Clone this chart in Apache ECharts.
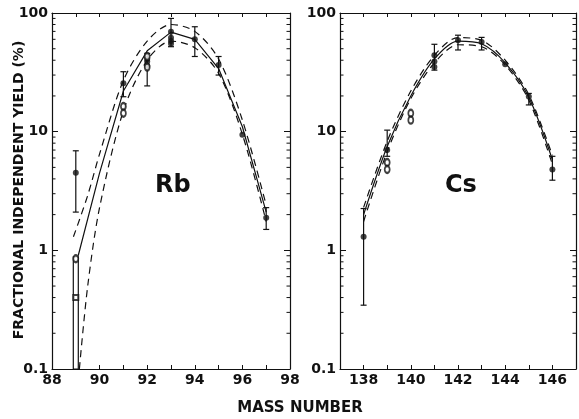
<!DOCTYPE html>
<html><head><meta charset="utf-8">
<script src="https://cdn.jsdelivr.net/npm/echarts@6/dist/echarts.min.js"></script>
<style>html,body{margin:0;padding:0;background:#fff}#c{width:579px;height:419px}</style>
</head><body><div id="c"></div>
<script>
// ---- Rb panel data ----
const rbSolid = [[89.1,0.9],[90,4.5],[91,22],[92,48],[93,69],[94,60],[95,34],[96,11],[97,2.1]];
const rbUpper = [[88.9,1.3],[89.5,2.9],[90,6.5],[91,27],[92,58],[93,80],[94,70],[95,41],[96,12.5],[97,2.4]];
const rbLower = [[89.15,0.1],[89.5,0.5],[90,2.3],[91,15],[92,40],[93,58],[94,51],[95,31],[96,9.5],[97,1.75]];
const rbPoints = [[89,4.5,2.1,6.9],[91,25.6,19.7,32],[92,39,24.3,45.7],[93,69.6,52,90],[94,60,43,76.6],[95,36.4,30,43],[97,1.88,1.5,2.29]];
const rbExtra = [[92,41],[92,36],[93,62],[93,58],[93,55],[96,9.4]];
const rbOpen = [[89,0.85],[91,16.3],[91,14.3],[92,43],[92,35]];
const rbOpenSq = [[89,0.40]];
const rbBox = [[89,0.1,0.88]];
// ---- Cs panel data ----
const csSolid = [[138,2.0],[139,7.5],[140,20],[141,41],[142,58],[143,55],[144,38],[145,19.5],[146,5.8]];
const csUpper = [[138,2.3],[139,8.3],[140,22],[141,44],[142,62],[143,59],[144,40],[145,20.5],[146,6.3]];
const csLower = [[138,1.75],[139,6.8],[140,19],[141,38],[142,54],[143,52],[144,36.5],[145,18.5],[146,5.3]];
const csPoints = [[138,1.3,0.345,2.25],[139,7.0,6.2,10.3],[141,39,33,54.5],[142,59,48.8,65],[143,57,48.8,62.3],[145,19.8,16.8,21],[146,4.8,3.9,6.2]];
const csExtra = [[141,35],[141,44],[144,37]];
const csOpen = [[139,5.5],[139,4.8],[140,14.3],[140,12.5]];
// ---- axes ----
const rbRange = [88, 98];
const csRange = [137, 147];
const rbXLabels = [88, 90, 92, 94, 96, 98];
const csXLabels = [138, 140, 142, 144, 146];
const yRange = [0.1, 100];
const yTickLabels = {0.1:'0.1', 1:'1', 10:'10', 100:'100'};
const decades = [0.1, 1, 10];

const FONT = 'DejaVu Sans';
const chart = echarts.init(document.getElementById('c'), null, {renderer:'canvas'});

function xAx(gi, range, pos, labels, labelList) {
  return {
    type:'value', gridIndex:gi, min:range[0], max:range[1], interval:1, position:pos,
    axisLine:{show:true, onZero:false, lineStyle:{color:'#111', width:1.2}},
    axisTick:{show:true, inside:true, length:4, lineStyle:{color:'#111', width:1}},
    splitLine:{show:false},
    axisLabel:{show:labels, showMinLabel:true, showMaxLabel:true, color:'#111', fontFamily:FONT, fontWeight:'bold', fontSize:14, margin:4,
      formatter:(v)=> (labelList && labelList.indexOf(Math.round(v))>=0 && Math.abs(v-Math.round(v))<1e-6) ? String(Math.round(v)) : ''}
  };
}
function yAx(gi, pos, labels) {
  return {
    type:'log', logBase:10, gridIndex:gi, min:yRange[0], max:yRange[1], position:pos,
    axisLine:{show:true, onZero:false, lineStyle:{color:'#111', width:1.2}},
    axisTick:{show:true, inside:true, length:6, lineStyle:{color:'#111', width:1}},
    splitLine:{show:false}, minorTick:{show:false},
    axisLabel:{show:labels, color:'#111', fontFamily:FONT, fontWeight:'bold', fontSize:14, margin:4,
      formatter:(v)=>{ for (const k in yTickLabels) { if (Math.abs(Math.log10(v)-Math.log10(+k))<1e-6) return yTickLabels[k]; } return ''; }}
  };
}

function lineSeries(gi, data, dashed, smooth) {
  return {type:'line', xAxisIndex:gi*2, yAxisIndex:gi*2, data:data, showSymbol:false, smooth:smooth,
    lineStyle:{color:'#111', width:1.2, type: dashed ? [7,5] : 'solid'}, z:3, silent:true};
}
function errSeries(gi, data) {
  return {type:'custom', xAxisIndex:gi*2, yAxisIndex:gi*2, data:data, clip:false, z:4,
    encode:{x:0, y:[1,2,3]},
    renderItem:(params, api)=>{
      const x=api.value(0), lo=api.value(2), hi=api.value(3);
      const a=api.coord([x,lo]), b=api.coord([x,hi]);
      const st={stroke:'#111', lineWidth:1.2};
      return {type:'group', children:[
        {type:'line', shape:{x1:a[0],y1:a[1],x2:b[0],y2:b[1]}, style:st},
        {type:'line', shape:{x1:a[0]-3,y1:a[1],x2:a[0]+3,y2:a[1]}, style:st},
        {type:'line', shape:{x1:b[0]-3,y1:b[1],x2:b[0]+3,y2:b[1]}, style:st}
      ]};
    }};
}
function dotSeries(gi, data) {
  return {type:'scatter', xAxisIndex:gi*2, yAxisIndex:gi*2, data:data, symbol:'circle', symbolSize:6,
    itemStyle:{color:'#111'}, z:5, silent:true};
}
function openSeries(gi, data, sym) {
  return {type:'scatter', xAxisIndex:gi*2, yAxisIndex:gi*2, data:data, symbol:sym, symbolSize:sym==='emptyRect'?[5,5]:[5,7],
    itemStyle:{color:'#111', borderColor:'#111', borderWidth:1.2}, z:6, silent:true};
}
function minorTickSeries(gi, range) {
  const d=[];
  decades.forEach(dec=>{ for (let k=2;k<=9;k++) d.push([range[0], dec*k]); });
  return {type:'custom', xAxisIndex:gi*2, yAxisIndex:gi*2, data:d, clip:false, z:2, silent:true,
    encode:{x:0,y:1},
    renderItem:(params, api)=>{
      const v=api.value(1);
      const L=api.coord([range[0], v]), R=api.coord([range[1], v]);
      const st={stroke:'#111', lineWidth:1};
      return {type:'group', children:[
        {type:'line', shape:{x1:L[0],y1:L[1],x2:L[0]+3.5,y2:L[1]}, style:st},
        {type:'line', shape:{x1:R[0],y1:R[1],x2:R[0]-3.5,y2:R[1]}, style:st}
      ]};
    }};
}
function boxSeries(gi, data) {
  return {type:'custom', xAxisIndex:gi*2, yAxisIndex:gi*2, data:data, clip:false, z:4, silent:true,
    encode:{x:0, y:[1,2]},
    renderItem:(params, api)=>{
      const x=api.value(0), lo=api.value(1), hi=api.value(2);
      const a=api.coord([x,lo]), b=api.coord([x,hi]);
      return {type:'rect', shape:{x:a[0]-2.5, y:b[1], width:5, height:a[1]-b[1]},
        style:{fill:'#fff', stroke:'#111', lineWidth:1.2}};
    }};
}

const option = {
  backgroundColor:'#fff',
  animation:false,
  grid:[
    {left:52, top:13, width:238, height:356},
    {left:340, top:13, width:238, height:356}
  ],
  xAxis:[
    xAx(0, rbRange, 'bottom', true, rbXLabels), xAx(0, rbRange, 'top', false, null),
    xAx(1, csRange, 'bottom', true, csXLabels), xAx(1, csRange, 'top', false, null)
  ],
  yAxis:[
    yAx(0, 'left', true), yAx(0, 'right', false),
    yAx(1, 'left', true), yAx(1, 'right', false)
  ],
  series:[
    minorTickSeries(0, rbRange), minorTickSeries(1, csRange),
    boxSeries(0, rbBox),
    lineSeries(0, rbSolid, false, false),
    lineSeries(0, rbUpper, true, 0.3),
    lineSeries(0, rbLower, true, 0.3),
    errSeries(0, rbPoints),
    dotSeries(0, rbPoints.map(p=>[p[0],p[1]])),
    dotSeries(0, rbExtra),
    openSeries(0, rbOpen, 'emptyCircle'),
    openSeries(0, rbOpenSq, 'emptyRect'),
    lineSeries(1, csSolid, false, 0.3),
    lineSeries(1, csUpper, true, 0.3),
    lineSeries(1, csLower, true, 0.3),
    errSeries(1, csPoints),
    dotSeries(1, csPoints.map(p=>[p[0],p[1]])),
    dotSeries(1, csExtra),
    openSeries(1, csOpen, 'emptyCircle')
  ],
  graphic:[
    {type:'text', left:171-16, top:174, style:{text:'Rb', font:'bold 24px "DejaVu Sans"', fill:'#111'}},
    {type:'text', left:460-15, top:174, style:{text:'Cs', font:'bold 24px "DejaVu Sans"', fill:'#111'}},
    {type:'text', x:300, y:408, style:{text:'MASS NUMBER', font:'bold 15px "DejaVu Sans"', fill:'#111', align:'center', verticalAlign:'middle'}},
    {type:'text', x:19, y:190, rotation:Math.PI/2, style:{text:'FRACTIONAL INDEPENDENT YIELD (%)', font:'bold 14px "DejaVu Sans"', fill:'#111', align:'center', verticalAlign:'middle'}}
  ]
};
chart.setOption(option);
</script>
</body></html>
